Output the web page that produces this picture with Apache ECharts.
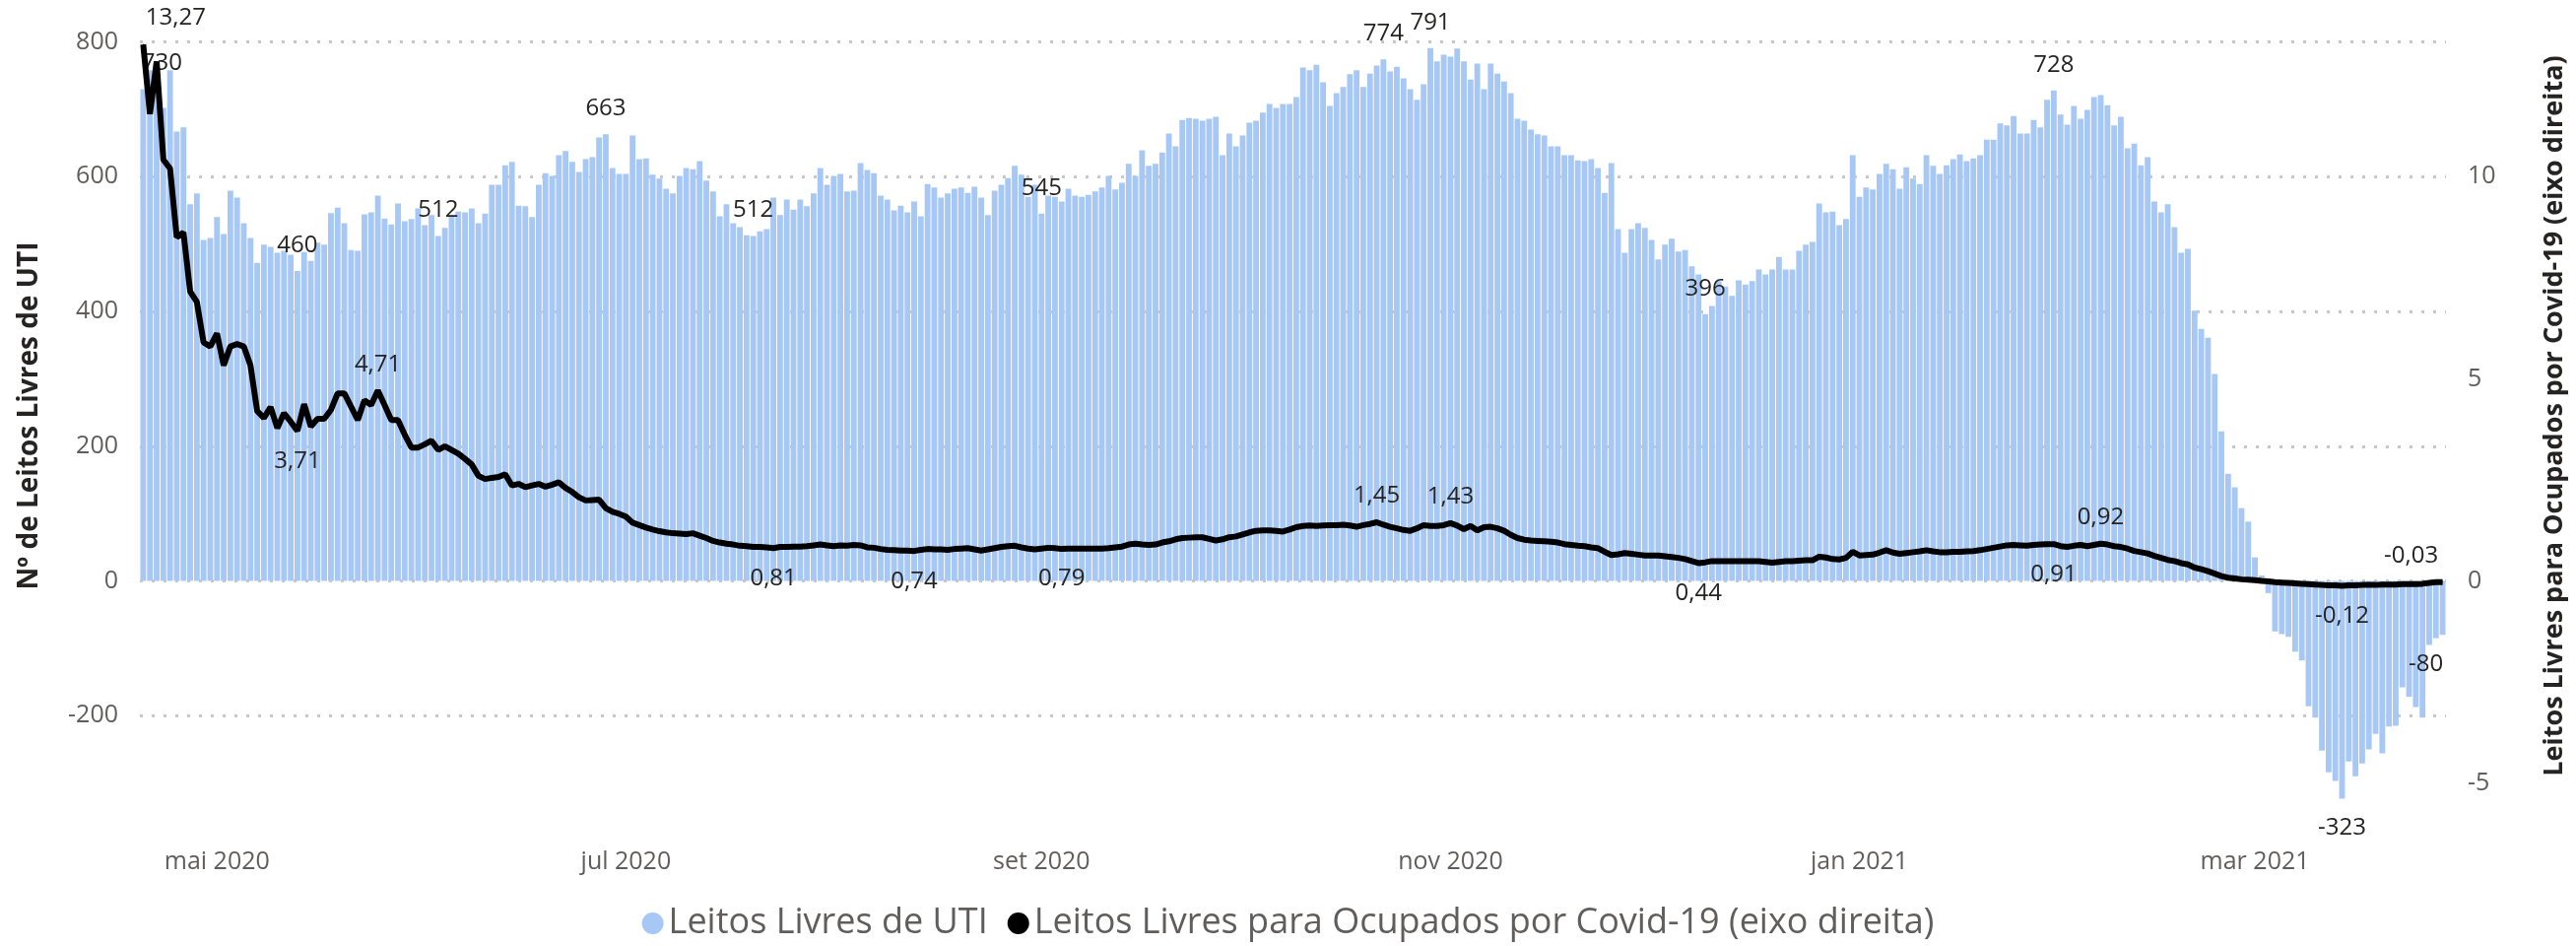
<!DOCTYPE html>
<html>
<head>
<meta charset="utf-8">
<title>Leitos Livres de UTI</title>
<script src="https://cdn.jsdelivr.net/npm/echarts@6/dist/echarts.min.js"></script>
<style>
  html, body { margin: 0; background: #fff; }
  #chart { width: 2615px; height: 960px; }
</style>
</head>
<body>
<div id="chart"></div>
<script>
// dias consecutivos a partir de 20/04/2020
var startDate = Date.UTC(2020, 3, 20);
var dayCount = 344;
var categories = [];
for (var d = 0; d < dayCount; d++) {
  categories.push(new Date(startDate + d * 86400000).toISOString().slice(0, 10));
}

var tickDates = ['2020-05-01', '2020-07-01', '2020-09-01', '2020-11-01', '2021-01-01', '2021-03-01'];
var tickLabels = ['mai 2020', 'jul 2020', 'set 2020', 'nov 2020', 'jan 2021', 'mar 2021'];

// Leitos Livres de UTI (eixo esquerdo)
var leitosLivres = [
  730, 758, 745, 702, 758, 667, 673, 559, 575, 506,
  509, 540, 515, 579, 569, 531, 509, 472, 499, 496,
  487, 490, 484, 460, 488, 475, 502, 499, 546, 554,
  531, 491, 490, 544, 547, 572, 538, 529, 560, 534,
  537, 553, 528, 543, 512, 524, 541, 548, 547, 553,
  531, 545, 588, 588, 617, 622, 557, 556, 540, 588,
  605, 601, 632, 638, 622, 607, 626, 629, 658, 663,
  613, 604, 604, 661, 626, 627, 603, 597, 582, 575,
  601, 613, 611, 623, 594, 578, 541, 559, 531, 525,
  513, 512, 519, 522, 569, 543, 566, 551, 566, 556,
  575, 613, 588, 601, 604, 578, 579, 620, 610, 605,
  572, 566, 550, 557, 547, 563, 541, 589, 584, 569,
  575, 582, 584, 576, 585, 569, 543, 579, 588, 598,
  616, 603, 570, 588, 545, 572, 570, 563, 582, 572,
  570, 573, 578, 584, 601, 581, 591, 619, 601, 639,
  616, 619, 636, 664, 645, 684, 687, 686, 683, 686,
  689, 632, 664, 645, 661, 680, 683, 695, 708, 702,
  708, 708, 718, 762, 758, 766, 740, 705, 724, 733,
  752, 758, 733, 753, 765, 774, 756, 763, 746, 730,
  714, 737, 791, 771, 781, 778, 790, 771, 744, 768,
  730, 768, 753, 741, 724, 686, 683, 670, 663, 661,
  645, 645, 632, 632, 624, 623, 626, 613, 576, 620,
  522, 487, 522, 531, 524, 506, 477, 499, 508, 489,
  491, 467, 455, 396, 408, 445, 437, 423, 446, 440,
  445, 462, 455, 462, 481, 462, 462, 490, 499, 503,
  560, 547, 548, 528, 537, 632, 570, 584, 581, 604,
  619, 611, 582, 614, 597, 589, 632, 616, 604, 617,
  626, 633, 623, 627, 632, 655, 655, 679, 676, 690,
  664, 664, 684, 673, 714, 728, 692, 677, 705, 686,
  699, 718, 721, 706, 676, 689, 642, 649, 617, 629,
  563, 547, 559, 525, 487, 493, 401, 374, 361, 307,
  222, 159, 139, 108, 88, 35, 8, -18, -75, -79,
  -83, -105, -118, -186, -203, -252, -284, -297, -323, -268,
  -290, -271, -250, -227, -256, -216, -215, -158, -172, -187,
  -203, -95, -85, -80
];

// Leitos Livres para Ocupados por Covid-19 (eixo direito)
var livresPorOcupados = [
  13.27, 11.55, 12.85, 10.42, 10.2, 8.5, 8.62, 7.16, 6.9, 5.9,
  5.8, 6.12, 5.33, 5.8, 5.86, 5.8, 5.33, 4.2, 4.03, 4.3,
  3.78, 4.15, 3.94, 3.71, 4.37, 3.82, 4.01, 4.01, 4.23, 4.64,
  4.64, 4.31, 3.98, 4.47, 4.35, 4.71, 4.35, 3.98, 3.98, 3.62,
  3.3, 3.3, 3.38, 3.47, 3.24, 3.33, 3.24, 3.15, 3.02, 2.88,
  2.6, 2.52, 2.55, 2.57, 2.64, 2.36, 2.4, 2.32, 2.36, 2.4,
  2.33, 2.38, 2.44, 2.3, 2.2, 2.07, 1.99, 2.0, 2.01, 1.8,
  1.71, 1.66, 1.59, 1.44, 1.38, 1.32, 1.27, 1.23, 1.2, 1.18,
  1.17, 1.16, 1.18, 1.12, 1.06, 0.99, 0.95, 0.92, 0.9, 0.87,
  0.86, 0.84, 0.84, 0.83, 0.81, 0.84, 0.84, 0.85, 0.85, 0.86,
  0.88, 0.9, 0.88, 0.86, 0.88, 0.87, 0.89, 0.88, 0.83, 0.82,
  0.79, 0.77, 0.76, 0.75, 0.75, 0.74, 0.77, 0.79, 0.78, 0.78,
  0.77, 0.79, 0.8, 0.81, 0.78, 0.75, 0.78, 0.81, 0.84, 0.86,
  0.87, 0.83, 0.8, 0.78, 0.8, 0.82, 0.81, 0.79, 0.8, 0.8,
  0.8, 0.8, 0.8, 0.8, 0.81, 0.83, 0.85, 0.9, 0.92, 0.9,
  0.89, 0.9, 0.95, 0.98, 1.03, 1.06, 1.07, 1.08, 1.08, 1.04,
  1.0, 1.03, 1.08, 1.1, 1.15, 1.2, 1.24, 1.25, 1.25, 1.24,
  1.22, 1.27, 1.33, 1.36, 1.37, 1.36, 1.37, 1.38, 1.38, 1.39,
  1.37, 1.34, 1.38, 1.41, 1.45, 1.39, 1.34, 1.3, 1.26, 1.24,
  1.3, 1.38, 1.36, 1.36, 1.38, 1.43, 1.37, 1.28, 1.36, 1.25,
  1.33, 1.34, 1.3, 1.24, 1.14, 1.06, 1.02, 1.0, 0.99, 0.98,
  0.97, 0.95, 0.91, 0.89, 0.87, 0.86, 0.83, 0.81, 0.72, 0.64,
  0.66, 0.69, 0.67, 0.65, 0.63, 0.63, 0.63, 0.61, 0.59, 0.57,
  0.54, 0.49, 0.44, 0.46, 0.49, 0.49, 0.49, 0.49, 0.49, 0.49,
  0.49, 0.49, 0.47, 0.45, 0.47, 0.49, 0.49, 0.5, 0.51, 0.51,
  0.6, 0.58, 0.54, 0.53, 0.57, 0.72, 0.63, 0.64, 0.65, 0.7,
  0.76, 0.7, 0.67, 0.69, 0.71, 0.73, 0.76, 0.73, 0.71, 0.71,
  0.72, 0.72, 0.73, 0.74, 0.76, 0.79, 0.82, 0.85, 0.88, 0.89,
  0.88, 0.87, 0.89, 0.9, 0.91, 0.91, 0.86, 0.84, 0.87, 0.89,
  0.86, 0.89, 0.92, 0.9, 0.86, 0.84, 0.8, 0.74, 0.71, 0.68,
  0.62, 0.57, 0.52, 0.49, 0.44, 0.41, 0.33, 0.29, 0.24, 0.18,
  0.12, 0.08, 0.06, 0.04, 0.03, 0.02, 0.0, -0.01, -0.03, -0.04,
  -0.05, -0.06, -0.07, -0.08, -0.09, -0.1, -0.11, -0.11, -0.12, -0.11,
  -0.11, -0.1, -0.1, -0.1, -0.09, -0.09, -0.09, -0.08, -0.08, -0.08,
  -0.07, -0.05, -0.03, -0.03
];

// pontos com rótulo de dados
var barLabelIdx = [0, 23, 44, 69, 91, 134, 185, 192, 233, 285, 328, 343];
var lineLabelAbove = [0, 35, 184, 195, 292, 343];
var lineLabelBelow = [23, 94, 115, 137, 232, 285, 328];

var FONT = "'Segoe UI', 'Open Sans', sans-serif";
var leftMin = -340, leftMax = 830, ratio = 60;
var lastIdx = categories.length - 1;

function fmtDec(v) { return v.toFixed(2).replace('.', ','); }

var barItems = leitosLivres.map(function (v, i) {
  if (barLabelIdx.indexOf(i) < 0) return v;
  var lab = { show: true, position: v < 0 ? 'bottom' : 'top', distance: v < 0 ? 18 : 14 };
  if (i === 0) lab.offset = [19, 0];
  if (i === lastIdx) lab.offset = [-17, 0];
  return { value: v, label: lab };
});

var lineItems = livresPorOcupados.map(function (v, i) {
  var above = lineLabelAbove.indexOf(i) >= 0, below = lineLabelBelow.indexOf(i) >= 0;
  if (!above && !below) return v;
  var lab = { show: true, position: above ? 'top' : 'bottom', distance: above ? 14 : 18 };
  if (i === 0) lab.offset = [33, 0];
  if (i === lastIdx) lab.offset = [-32, 0];
  return { value: v, label: lab };
});

var chart = echarts.init(document.getElementById('chart'));
var option = {
  animation: false,
  backgroundColor: '#ffffff',
  textStyle: { fontFamily: FONT },
  legend: {
    bottom: 0,
    left: 'center',
    icon: 'circle',
    itemWidth: 22,
    itemHeight: 22,
    itemGap: 20,
    textStyle: { fontSize: 36, color: '#605E5C', fontFamily: FONT }
  },
  grid: { left: 142, right: 125, top: 22, bottom: 138 },
  xAxis: {
    type: 'category',
    data: categories,
    boundaryGap: true,
    axisLine: { show: false, onZero: false },
    axisTick: { show: false },
    splitLine: { show: false },
    axisLabel: {
      interval: function (idx, val) { return tickDates.indexOf(val) >= 0; },
      formatter: function (val) { return tickLabels[tickDates.indexOf(val)]; },
      fontSize: 25,
      color: '#605E5C',
      margin: 40,
      fontFamily: FONT
    }
  },
  yAxis: [
    {
      type: 'value',
      position: 'left',
      min: leftMin,
      max: leftMax,
      splitNumber: 5,
      name: 'Nº de Leitos Livres de UTI',
      nameLocation: 'middle',
      nameRotate: 90,
      nameGap: 98,
      nameTextStyle: { fontSize: 28, fontWeight: 'bold', color: '#252423', fontFamily: FONT },
      axisLine: { show: false },
      axisTick: { show: false },
      axisLabel: { fontSize: 25, color: '#605E5C', margin: 22, showMinLabel: false, showMaxLabel: false, fontFamily: FONT },
      splitLine: {
        show: true, showMinLine: false, showMaxLine: false,
        lineStyle: { color: '#C8C8C8', width: 3, type: [3, 9] }
      }
    },
    {
      type: 'value',
      position: 'right',
      min: leftMin / ratio,
      max: leftMax / ratio,
      splitNumber: 4,
      name: 'Leitos Livres para Ocupados por Covid-19 (eixo direita)',
      nameLocation: 'middle',
      nameRotate: 90,
      nameGap: 97,
      nameTextStyle: { fontSize: 27, fontWeight: 'bold', color: '#252423', fontFamily: FONT },
      axisLine: { show: false },
      axisTick: { show: false },
      axisLabel: { fontSize: 25, color: '#605E5C', margin: 22, showMinLabel: false, showMaxLabel: false, fontFamily: FONT },
      splitLine: { show: false }
    }
  ],
  series: [
    {
      name: 'Leitos Livres de UTI',
      type: 'bar',
      data: barItems,
      barCategoryGap: '14%',
      itemStyle: { color: '#A7C8F4' },
      label: { show: false, fontSize: 24, color: '#252423', fontFamily: FONT },
      silent: true
    },
    {
      name: 'Leitos Livres para Ocupados por Covid-19 (eixo direita)',
      type: 'line',
      yAxisIndex: 1,
      data: lineItems,
      showSymbol: true,
      showAllSymbol: true,
      symbol: 'circle',
      symbolSize: 1,
      itemStyle: { color: '#000000' },
      lineStyle: { color: '#000000', width: 6 },
      label: {
        show: false, fontSize: 24, color: '#252423', fontFamily: FONT,
        formatter: function (p) { return fmtDec(p.value); }
      },
      silent: true,
      z: 5
    }
  ]
};
chart.setOption(option);
</script>
</body>
</html>
